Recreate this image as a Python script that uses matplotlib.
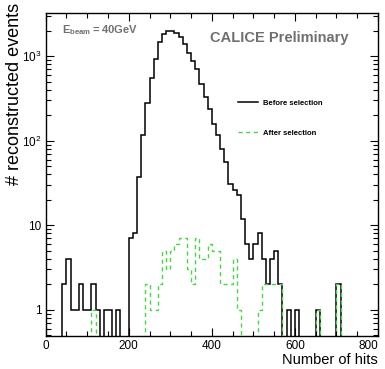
import numpy as np
import matplotlib
matplotlib.use("Agg")
import matplotlib.pyplot as plt
from matplotlib.ticker import FixedLocator, FixedFormatter, MultipleLocator, NullFormatter

plt.rcParams['font.family'] = ['Liberation Sans', 'DejaVu Sans']
plt.rcParams['mathtext.fontset'] = 'custom'
plt.rcParams['mathtext.rm'] = 'Liberation Sans'
plt.rcParams['mathtext.bf'] = 'Liberation Sans:bold'

# bin edges: 0..800 in steps of 10 hits
edges = np.arange(0, 810, 10)

# counts per bin, one row = 100 hits
before = [
    0, 0, 0, 0, 2, 4, 1, 1, 2, 1,
    1, 2, 1, 0, 1, 1, 0, 1, 0, 0,
    7, 8, 37, 116, 283, 560, 920, 1490, 1820, 2000,
    2000, 1860, 1670, 1380, 1100, 870, 700, 465, 330, 240,
    160, 116, 79, 56, 31, 26, 23, 12, 6, 4,
    6, 8, 4, 2, 4, 5, 2, 0, 1, 0,
    1, 0, 0, 0, 0, 1, 0, 0, 0, 0,
    2, 0, 0, 0, 0, 0, 0, 0, 0, 0,
]
after = [
    0, 0, 0, 0, 0, 0, 0, 0, 0, 0,
    0, 1, 0, 0, 0, 0, 0, 0, 0, 0,
    0, 0, 0, 0, 2, 1, 1, 2, 5, 3,
    5, 6, 7, 7, 3, 2, 7, 4, 4, 6,
    5, 5, 2, 2, 2, 4, 1, 0, 0, 0,
    0, 1, 2, 2, 2, 2, 2, 0, 0, 0,
    0, 0, 0, 0, 0, 1, 0, 0, 0, 0,
    2, 0, 0, 0, 0, 0, 0, 0, 0, 0,
]

xtick_vals = [0, 200, 400, 600, 800]
ytick_vals = [1, 10, 100, 1000]
ytick_labels = ["1", "10", "$10^{2}$", "$10^{3}$"]

fig = plt.figure(figsize=(3.85, 3.69), dpi=100)
ax = fig.add_axes([0.1187, 0.0894, 0.8631, 0.8754])

ax.stairs(before, edges, baseline=None, color="black", linewidth=1.1,
          label="Before selection")
ax.stairs(after, edges, baseline=None, color="#44d844", linewidth=1.0,
          linestyle=(0, (3, 2.5)), label="After selection")

ax.set_yscale("log")
ax.set_xlim(0, 800)
ax.set_ylim(0.49, 3250)

ax.xaxis.set_major_locator(FixedLocator(xtick_vals))
ax.xaxis.set_minor_locator(MultipleLocator(50))
ax.yaxis.set_major_locator(FixedLocator(ytick_vals))
ax.yaxis.set_major_formatter(FixedFormatter(ytick_labels))
ax.yaxis.set_minor_formatter(NullFormatter())

ax.tick_params(which="both", direction="in", top=True, right=True,
               labelsize=8.5, width=0.8)
ax.tick_params(which="major", length=6)
ax.tick_params(which="minor", length=3.5)
ax.tick_params(axis="x", pad=3)
ax.tick_params(axis="y", pad=3)
for s in ax.spines.values():
    s.set_linewidth(1.0)

# last x label pulled inside the canvas, as in the original
ax.xaxis.get_major_ticks()[-1].label1.set_horizontalalignment("right")

fig.text(378 / 385, 1 - 360 / 369, "Number of hits", ha="right", va="center",
         fontsize=10.5)
fig.text(15 / 385, 1 - 3 / 369, "# reconstructed events", ha="center", va="top",
         rotation=90, fontsize=13)

ax.text(0.494, 0.923, "CALICE Preliminary", transform=ax.transAxes,
        fontsize=10.5, fontweight="bold", color="#707070", va="center")
ax.text(0.05, 0.947, r"$\mathbf{E}_{\mathbf{beam}}\mathbf{=40GeV}$",
        transform=ax.transAxes, fontsize=8, color="#707070", va="center")

ax.legend(loc="upper left", bbox_to_anchor=(0.579, 0.732), frameon=False,
          prop={"size": 5.5, "weight": "bold"}, handlelength=2.6,
          handletextpad=0.65, labelspacing=3.0, borderpad=0, borderaxespad=0)

fig.savefig("out.png", dpi=100)
